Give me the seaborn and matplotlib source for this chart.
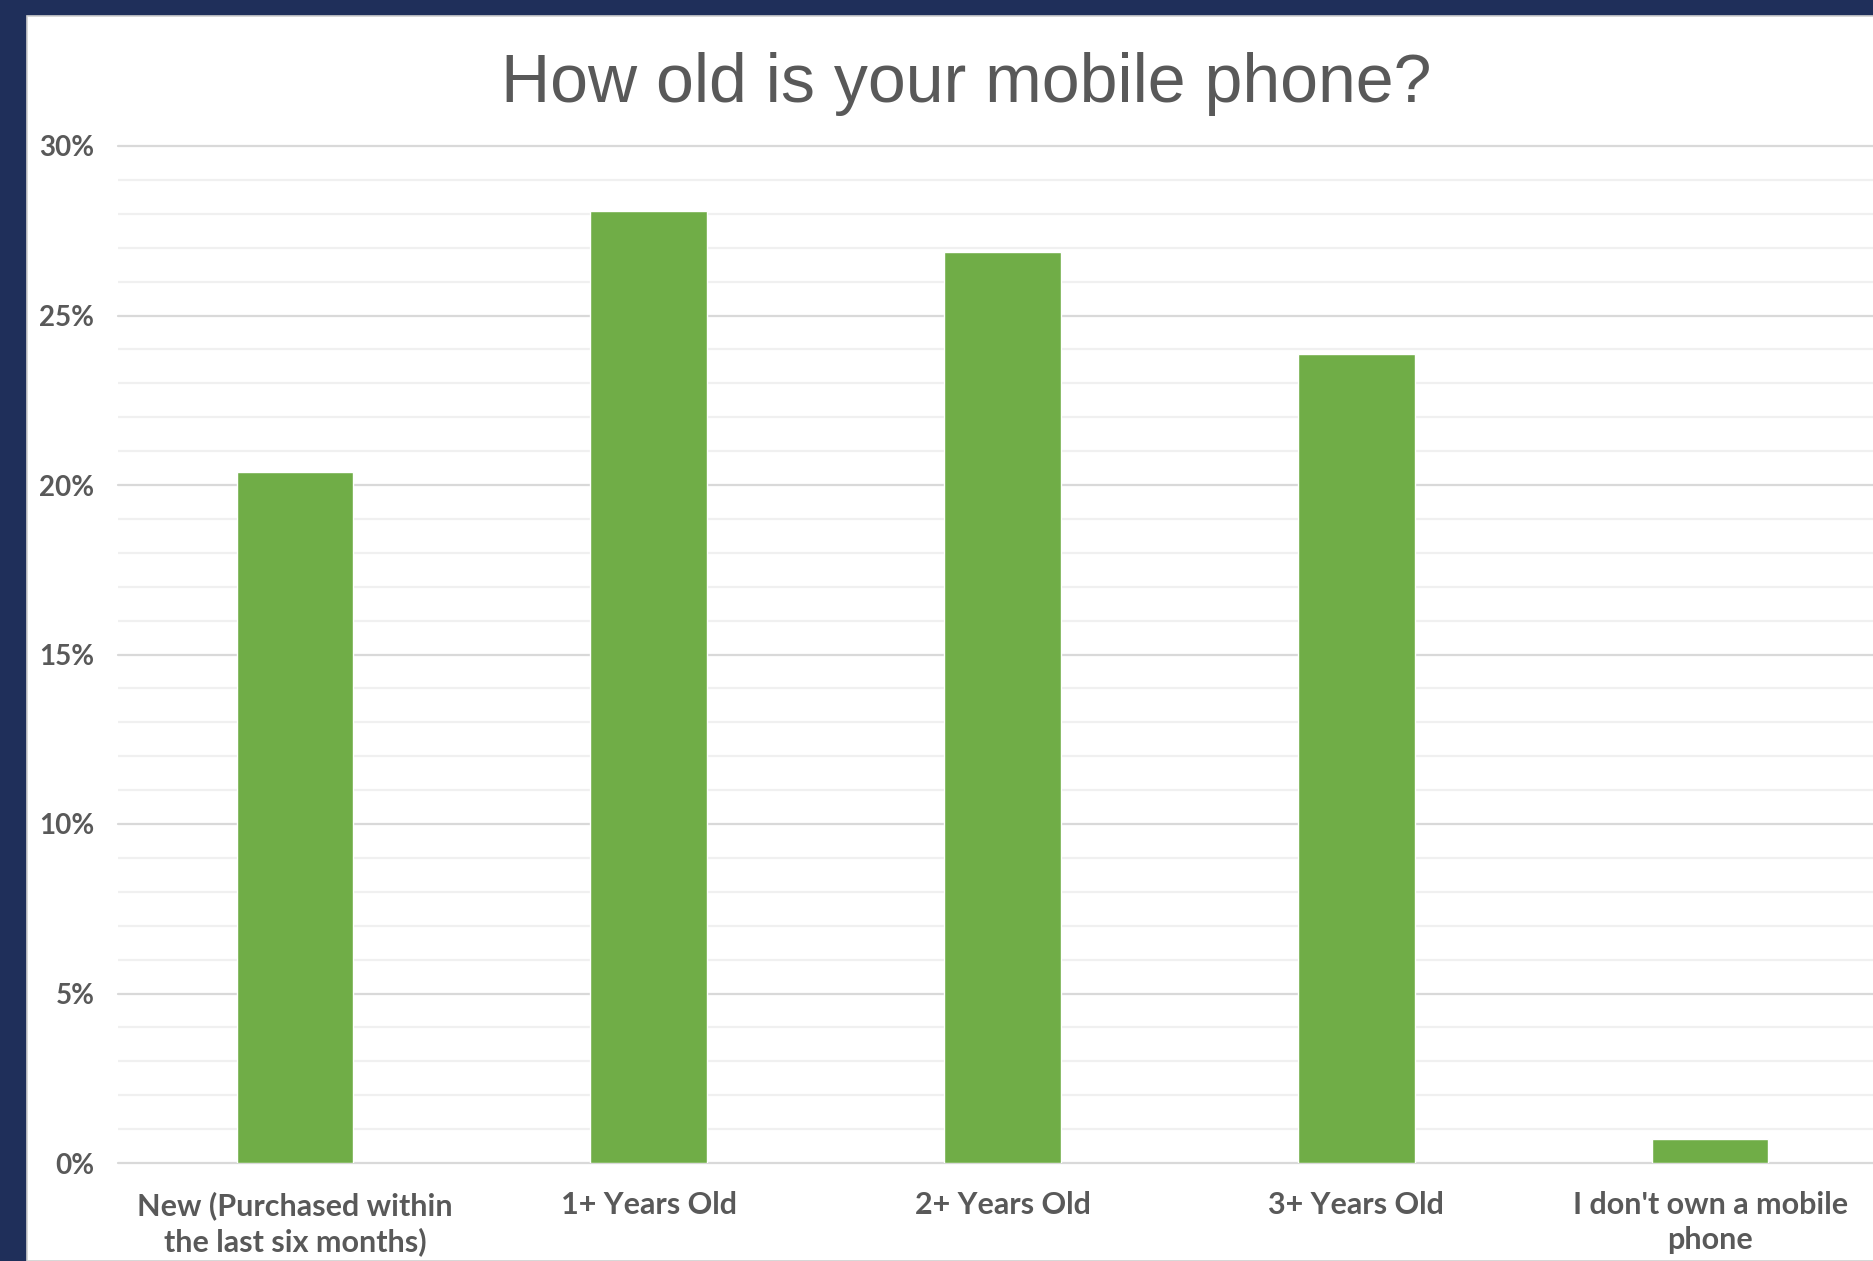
import matplotlib
matplotlib.use("Agg")
import matplotlib.pyplot as plt
from matplotlib.patches import Rectangle
from matplotlib.ticker import MultipleLocator, PercentFormatter
import seaborn as sns
import pandas as pd

# Survey answers and share of respondents (%)
categories = [
    "New (Purchased within\nthe last six months)",
    "1+ Years Old",
    "2+ Years Old",
    "3+ Years Old",
    "I don't own a mobile\nphone",
]
shares = [20.37, 28.08, 26.88, 23.86, 0.72]
y_ticks = [0, 5, 10, 15, 20, 25, 30]
title = "How old is your mobile phone?"

df = pd.DataFrame({"answer": categories, "share": shares})

sns.set_theme(style="white")
plt.rcParams["font.family"] = ["Lato", "DejaVu Sans"]

W, H, DPI = 1874, 1261, 100
fig = plt.figure(figsize=(W / DPI, H / DPI), dpi=DPI)
fig.patch.set_facecolor("#1f2f5a")

# white slide panel inside the navy frame
panel = Rectangle((27 / W, 0), 1 - 27 / W, 1 - 16 / H, transform=fig.transFigure,
                  facecolor="white", edgecolor="#d0d0d0", linewidth=1.2, zorder=-5)
fig.patches.append(panel)

left, right = 118 / W, 1887 / W
bottom, top = (H - 1163) / H, (H - 146) / H
ax = fig.add_axes([left, bottom, right - left, top - bottom])
ax.set_zorder(2)
ax.set_facecolor("none")

sns.barplot(data=df, x="answer", y="share", color="#70ad47", width=0.33,
            saturation=1, ax=ax, zorder=3)

ax.set_ylim(0, 30)
ax.set_xlim(-0.5, len(categories) - 0.5)
ax.set_yticks(y_ticks)
ax.yaxis.set_major_formatter(PercentFormatter(xmax=100, decimals=0))
ax.yaxis.set_minor_locator(MultipleLocator(1))
ax.set_axisbelow(True)
ax.grid(axis="y", which="major", color="#d9d9d9", linewidth=1.6, zorder=1)
ax.grid(axis="y", which="minor", color="#f0f0f0", linewidth=1.6, zorder=1)
ax.grid(axis="x", visible=False)
for gl in ax.get_ygridlines():
    gl.set_clip_on(False)
for s in ax.spines.values():
    s.set_visible(False)

ax.set_xlabel("")
ax.set_ylabel("")
ax.tick_params(axis="both", which="both", length=0)
ax.tick_params(axis="y", pad=17)
ax.tick_params(axis="x", pad=20)
for lab in ax.get_yticklabels():
    lab.set_fontsize(20)
    lab.set_fontweight("bold")
    lab.set_color("#595959")
for lab in ax.get_xticklabels():
    lab.set_fontsize(22)
    lab.set_fontweight("bold")
    lab.set_color("#595959")
    lab.set_linespacing(1.3)

fig.text(966 / W, 1 - 102 / H, title, ha="center", va="baseline",
         fontsize=49, color="#595959", family=["Liberation Sans", "DejaVu Sans"])

fig.savefig("out.png", dpi=DPI, facecolor=fig.get_facecolor())
